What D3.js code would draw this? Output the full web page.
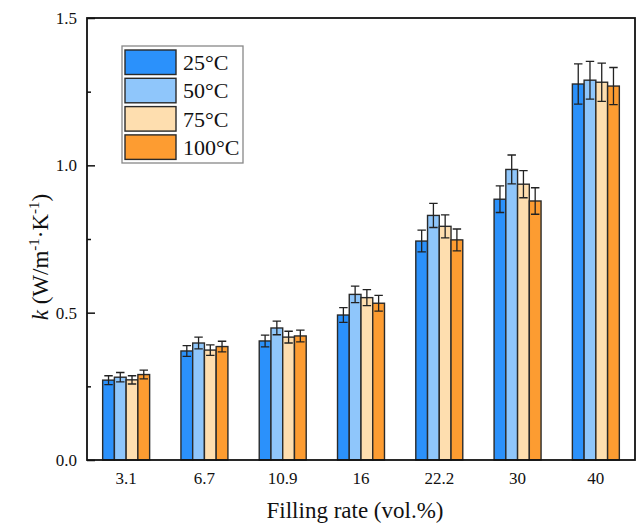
<!DOCTYPE html>
<html>
<head>
<meta charset="utf-8">
<script src="https://cdn.jsdelivr.net/npm/d3@7"></script>
<style>
  body { margin: 0; background: #fff; }
  svg text { font-family: "Liberation Serif", "Times New Roman", serif; fill: #111; }
</style>
</head>
<body>
<svg id="chart" width="638" height="528"></svg>
<script>
"use strict";

// filling rates on the x axis
var categories = ["3.1", "6.7", "10.9", "16", "22.2", "30", "40"];
var seriesNames = ["25°C", "50°C", "75°C", "100°C"];
var seriesColors = ["#2b91fb", "#8fc6fb", "#fedeaf", "#fd9c31"];

// thermal conductivity k, W/(m·K)
var k25 = [0.271, 0.370, 0.404, 0.492, 0.743, 0.885, 1.276];
var k50 = [0.281, 0.397, 0.448, 0.562, 0.830, 0.986, 1.289];
var k75 = [0.272, 0.373, 0.417, 0.551, 0.793, 0.936, 1.282];
var k100 = [0.290, 0.385, 0.421, 0.532, 0.747, 0.879, 1.269];

// error bars (half width)
var e25 = [0.015, 0.018, 0.020, 0.025, 0.037, 0.045, 0.068];
var e50 = [0.016, 0.020, 0.023, 0.028, 0.041, 0.049, 0.064];
var e75 = [0.014, 0.018, 0.020, 0.027, 0.039, 0.046, 0.065];
var e100 = [0.015, 0.018, 0.020, 0.027, 0.037, 0.045, 0.063];

var yTicks = [0, 0.5, 1.0, 1.5];
var yMinorTicks = [0.25, 0.75, 1.25];

var values = [k25, k50, k75, k100];
var errors = [e25, e50, e75, e100];

var serif = '"Liberation Serif", "Times New Roman", serif';
var margin = {left: 87, right: 3, top: 18, bottom: 68};
var width = 638, height = 528;

var svg = d3.select("#chart");

var x = d3.scaleBand()
  .domain(categories)
  .range([margin.left, width - margin.right])
  .paddingInner(0.4)
  .paddingOuter(0.2);

var xs = d3.scaleBand()
  .domain(seriesNames)
  .range([0, x.bandwidth()]);

var y = d3.scaleLinear()
  .domain([0, 1.5])
  .range([height - margin.bottom, margin.top]);

// build flat records for the bars
var records = [];
categories.forEach(function(c, i) {
  seriesNames.forEach(function(s, j) {
    records.push({cat: c, s: s, j: j, v: values[j][i], e: errors[j][i]});
  });
});

var bars = svg.append("g").attr("class", "bars");

bars.selectAll("rect")
  .data(records)
  .enter().append("rect")
  .attr("x", function(d) { return x(d.cat) + xs(d.s); })
  .attr("y", function(d) { return y(d.v); })
  .attr("width", xs.bandwidth())
  .attr("height", function(d) { return y(0) - y(d.v); })
  .attr("fill", function(d) { return seriesColors[d.j]; })
  .attr("stroke", "#2a2a2a")
  .attr("stroke-width", 1.4);

// error bars
var capHalf = xs.bandwidth() * 0.36;
var err = svg.append("g").attr("class", "errors")
  .attr("stroke", "#222")
  .attr("stroke-width", 1.3)
  .attr("fill", "none");

err.selectAll("path")
  .data(records)
  .enter().append("path")
  .attr("d", function(d) {
    var cx = x(d.cat) + xs(d.s) + xs.bandwidth() / 2;
    var y0 = y(d.v - d.e), y1 = y(d.v + d.e);
    return "M" + cx + "," + y0 + "L" + cx + "," + y1 +
      "M" + (cx - capHalf) + "," + y1 + "L" + (cx + capHalf) + "," + y1 +
      "M" + (cx - capHalf) + "," + y0 + "L" + (cx + capHalf) + "," + y0;
  });

// frame
svg.append("rect")
  .attr("x", margin.left)
  .attr("y", margin.top)
  .attr("width", width - margin.left - margin.right)
  .attr("height", height - margin.top - margin.bottom)
  .attr("fill", "none")
  .attr("stroke", "#111")
  .attr("stroke-width", 1.8);

// y axis, ticks pointing inward
var yAxis = svg.append("g")
  .attr("transform", "translate(" + margin.left + ",0)")
  .attr("font-family", serif)
  .call(d3.axisLeft(y).tickValues(yTicks).tickFormat(d3.format(".1f")).tickSizeInner(-8).tickSizeOuter(0).tickPadding(10));
yAxis.select(".domain").remove();
yAxis.selectAll("line").attr("stroke", "#111").attr("stroke-width", 1.5);
yAxis.selectAll("text").style("font-size", "17px").attr("fill", "#111");

var yMinor = svg.append("g")
  .attr("transform", "translate(" + margin.left + ",0)")
  .call(d3.axisLeft(y).tickValues(yMinorTicks).tickFormat("").tickSizeInner(-4).tickSizeOuter(0));
yMinor.select(".domain").remove();
yMinor.selectAll("line").attr("stroke", "#111").attr("stroke-width", 1.5);

// x axis labels
var xAxis = svg.append("g")
  .attr("transform", "translate(0," + (height - margin.bottom) + ")")
  .attr("font-family", serif)
  .call(d3.axisBottom(x).tickSize(0).tickPadding(12));
xAxis.select(".domain").remove();
xAxis.selectAll("text").style("font-size", "17px").attr("fill", "#111");

// axis titles
svg.append("text")
  .attr("x", 355)
  .attr("y", 518)
  .attr("text-anchor", "middle")
  .style("font-family", serif)
  .style("font-size", "23px")
  .text("Filling rate (vol.%)");

var yt = svg.append("text")
  .attr("transform", "translate(48,257) rotate(-90)")
  .attr("text-anchor", "middle")
  .style("font-family", serif)
  .style("font-size", "23px");
yt.append("tspan").style("font-style", "italic").text("k");
yt.append("tspan").text(" (W/m");
yt.append("tspan").attr("dy", -9).style("font-size", "15px").text("-1");
yt.append("tspan").attr("dy", 9).text("·K");
yt.append("tspan").attr("dy", -9).style("font-size", "15px").text("-1");
yt.append("tspan").attr("dy", 9).text(")");

// legend
var lg = svg.append("g").attr("transform", "translate(122,46)");
lg.append("rect")
  .attr("width", 121)
  .attr("height", 117)
  .attr("fill", "#fff")
  .attr("stroke", "#888")
  .attr("stroke-width", 1.3);

var rows = lg.selectAll("g.row")
  .data(seriesNames)
  .enter().append("g")
  .attr("class", "row")
  .attr("transform", function(d, i) { return "translate(3," + (4 + i * 28.3) + ")"; });

rows.append("rect")
  .attr("width", 51)
  .attr("height", 24.5)
  .attr("fill", function(d, i) { return seriesColors[i]; })
  .attr("stroke", "#2a2a2a")
  .attr("stroke-width", 1.4);

rows.append("text")
  .attr("x", 58)
  .attr("y", 20)
  .style("font-family", serif)
  .style("font-size", "22px")
  .text(function(d) { return d; });
</script>
</body>
</html>
